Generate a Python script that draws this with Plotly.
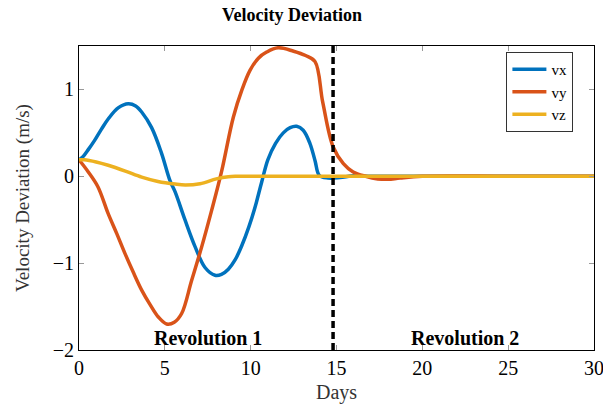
import plotly.graph_objects as go

# ---- data ----
t_vx = [0.0, 0.2, 0.55, 0.9, 1.3, 1.7, 2.3, 2.87, 3.3, 3.65, 4.23, 4.8, 5.3, 5.6, 6.17, 6.76, 7.34, 7.92, 8.3, 8.7, 9.1, 9.48, 9.9, 10.25, 10.65, 11.0, 11.45, 11.9, 12.3, 12.68, 13.06, 13.45, 13.75, 14.0, 14.5, 15.2, 16.0, 17.0, 20.0, 25.0, 30.0]
vx   = [0.19, 0.22, 0.31, 0.41, 0.54, 0.66, 0.79, 0.835, 0.81, 0.74, 0.56, 0.27, -0.05, -0.18, -0.5, -0.81, -1.05, -1.14, -1.13, -1.07, -0.96, -0.8, -0.58, -0.36, -0.06, 0.19, 0.38, 0.5, 0.56, 0.575, 0.53, 0.38, 0.18, 0.01, -0.02, -0.015, 0.005, 0.0, 0.0, 0.0, 0.0]

t_vy = [0.0, 0.54, 1.1, 1.7, 2.2, 2.68, 3.15, 3.65, 4.15, 4.62, 5.1, 5.55, 5.98, 6.56, 7.15, 7.73, 8.3, 8.99, 9.5, 9.96, 10.45, 10.93, 11.6, 12.5, 13.2, 13.75, 14.2, 14.8, 15.4, 15.97, 16.7, 17.4, 18.0, 18.7, 20.0, 25.0, 30.0]
vy   = [0.19, 0.05, -0.12, -0.43, -0.66, -0.89, -1.1, -1.31, -1.48, -1.62, -1.7, -1.68, -1.58, -1.2, -0.81, -0.39, 0.05, 0.68, 1.0, 1.22, 1.36, 1.43, 1.48, 1.44, 1.39, 1.32, 0.85, 0.34, 0.146, 0.05, 0.0, -0.03, -0.035, -0.02, 0.0, 0.0, 0.0]

t_vz = [0.0, 0.3, 1.0, 1.7, 2.7, 3.65, 4.6, 5.6, 6.2, 7.05, 8.0, 8.7, 9.2, 12.0, 20.0, 30.0]
vz   = [0.19, 0.19, 0.165, 0.127, 0.06, -0.01, -0.06, -0.09, -0.1, -0.085, -0.03, -0.005, 0.0, 0.0, 0.0, 0.0]

split_day = 14.8
rev_labels = ["Revolution 1", "Revolution 2"]
rev_x = [7.5, 22.5]
rev_y = -1.86

x_ticks = [0, 5, 10, 15, 20, 25, 30]
y_ticks = [-2, -1, 0, 1]
y_ticktext = ["\u22122", "\u22121", "0", "1"]

colors = {"vx": "#0072BD", "vy": "#D95319", "vz": "#EDB120"}
FONT = "Liberation Serif, Times New Roman, serif"

fig = go.Figure()
for name, tt, vv in [("vx", t_vx, vx), ("vy", t_vy, vy), ("vz", t_vz, vz)]:
    fig.add_trace(go.Scatter(x=tt, y=vv, mode="lines", name=name,
                             line=dict(color=colors[name], width=3.5, shape="spline", smoothing=1.0)))

fig.add_shape(type="line", x0=split_day, x1=split_day, y0=0, y1=1, xref="x", yref="paper",
              line=dict(color="black", width=3.5, dash="7px,4px"))

for lab, xx in zip(rev_labels, rev_x):
    fig.add_annotation(x=xx, y=rev_y, text="<b>%s</b>" % lab, showarrow=False,
                       font=dict(family=FONT, size=20, color="black"))

axis_common = dict(showgrid=False, zeroline=False, showline=True, linecolor="black", linewidth=1,
                   mirror="ticks", ticks="inside", ticklen=5, tickcolor="#999999",
                   automargin=False, ticklabeloverflow="allow",
                   tickfont=dict(family=FONT, size=20, color="black"))

fig.update_xaxes(range=[0, 30], tickvals=x_ticks,
                 title=dict(text="Days", font=dict(family=FONT, size=20, color="#333333"), standoff=6),
                 **axis_common)
fig.update_yaxes(range=[-2, 1.5], tickvals=y_ticks, ticktext=y_ticktext,
                 title=dict(text="Velocity Deviation (m/s)", font=dict(family=FONT, size=19, color="#333333"), standoff=18),
                 **axis_common)

fig.update_layout(
    width=603, height=408,
    margin=dict(l=79, r=9, t=46, b=58),
    plot_bgcolor="white", paper_bgcolor="white",
    title=dict(text="<b>Velocity Deviation</b>", x=292 / 603, xanchor="center", y=0.963, yanchor="middle",
               font=dict(family=FONT, size=18, color="black")),
    legend=dict(x=0.96, y=0.98, xanchor="right", yanchor="top", bgcolor="white",
                bordercolor="#333333", borderwidth=1,
                font=dict(family=FONT, size=15, color="black"),
                tracegroupgap=0, itemwidth=34),
    showlegend=True,
)

fig.write_html("out.html", config={"displayModeBar": False})

# remove the browser's default 8px body margin so the figure sits at the window origin
with open("out.html", "r", encoding="utf-8") as f:
    html = f.read()
html = html.replace("<head>", "<head><style>html,body{margin:0;padding:0;overflow:hidden;}</style>", 1)
with open("out.html", "w", encoding="utf-8") as f:
    f.write(html)
